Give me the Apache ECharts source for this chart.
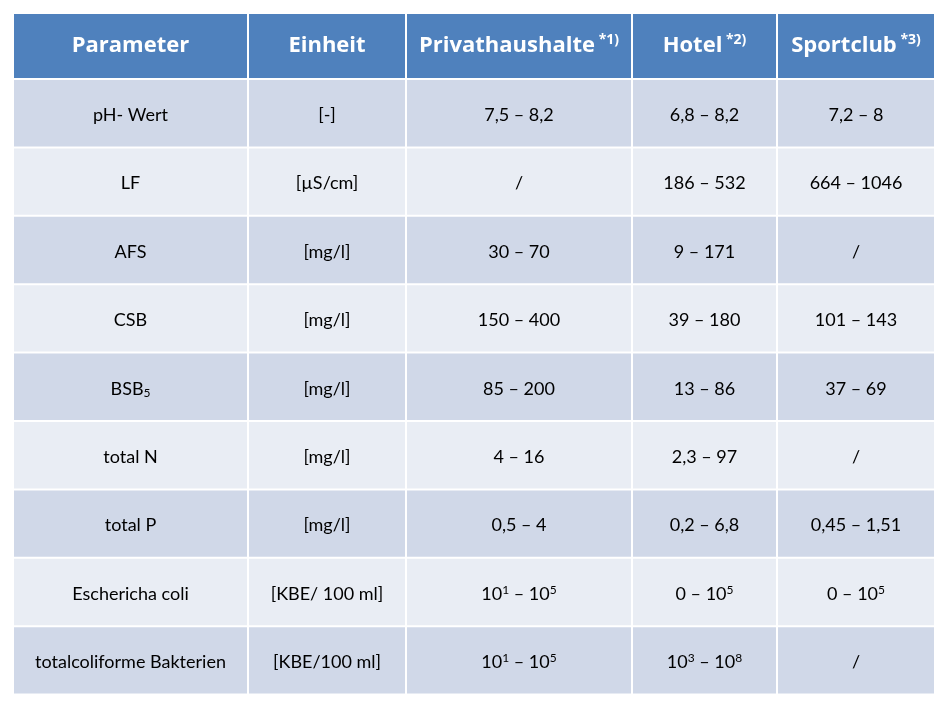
<!DOCTYPE html>
<html>
<head>
<meta charset="utf-8">
<script src="https://cdn.jsdelivr.net/npm/echarts@6/dist/echarts.min.js"></script>
<style>html,body{margin:0;background:#fff}#c{width:947px;height:707px}</style>
</head>
<body>
<div id="c"></div>
<script>
// column boundaries and row boundaries (table units)
const colEdges = [0, 235, 393, 619, 764, 922];
const headerHeight = 66;
const rowHeight = 68.4;

const headers = ["Parameter", "Einheit", "Privathaushalte{sup| *1)}", "Hotel{sup| *2)}", "Sportclub{sup| *3)}"];
const parameters = ["pH- Wert", "LF", "AFS", "CSB", "BSB{sub|5}", "total N", "total P", "Eschericha coli", "totalcoliforme Bakterien"];
const units = ["[-]", "[µS/cm]", "[mg/l]", "[mg/l]", "[mg/l]", "[mg/l]", "[mg/l]", "[KBE/ 100 ml]", "[KBE/100 ml]"];
const privathaushalte = ["7,5 – 8,2", "/", "30 – 70", "150 – 400", "85 – 200", "4 – 16", "0,5 – 4", "10{sup|1} – 10{sup|5}", "10{sup|1} – 10{sup|5}"];
const hotel = ["6,8 – 8,2", "186 – 532", "9 – 171", "39 – 180", "13 – 86", "2,3 – 97", "0,2 – 6,8", "0 – 10{sup|5}", "10{sup|3} – 10{sup|8}"];
const sportclub = ["7,2 – 8", "664 – 1046", "/", "101 – 143", "37 – 69", "/", "0,45 – 1,51", "0 – 10{sup|5}", "/"];

const columns = [parameters, units, privathaushalte, hotel, sportclub];
const cells = [];
headers.forEach((h, c) => cells.push([c, -1, h]));
for (let r = 0; r < parameters.length; r++) {
  columns.forEach((col, c) => cells.push([c, r, col[r]]));
}

function rowTop(r) { return r < 0 ? 0 : headerHeight + r * rowHeight; }
function rowBottom(r) { return r < 0 ? headerHeight : headerHeight + (r + 1) * rowHeight; }

const chart = echarts.init(document.getElementById("c"));
chart.setOption({
  animation: false,
  grid: { left: 13, top: 13, width: 922, height: 682 },
  xAxis: { type: "value", min: 0, max: 922, show: false },
  yAxis: { type: "value", min: 0, max: 682, inverse: true, show: false },
  series: [{
    type: "custom",
    data: cells,
    renderItem(params, api) {
      const c = api.value(0), r = api.value(1);
      const p0 = api.coord([colEdges[c], rowTop(r)]);
      const p1 = api.coord([colEdges[c + 1], rowBottom(r)]);
      const header = r < 0;
      const fill = header ? "#4F81BD" : (r % 2 === 0 ? "#D0D8E8" : "#E9EDF4");
      const text = cells[params.dataIndex][2];
      return {
        type: "group",
        children: [
          { type: "rect", shape: { x: p0[0] + 1, y: p0[1] + 1, width: p1[0] - p0[0] - 2, height: p1[1] - p0[1] - 2 }, style: { fill } },
          {
            type: "text",
            x: (p0[0] + p1[0]) / 2, y: (p0[1] + p1[1]) / 2 + (header ? 0 : 2),
            style: {
              text, align: "center", verticalAlign: "middle",
              fill: header ? "#fff" : "#000",
              font: header ? "bold 22px 'Open Sans', Lato, sans-serif" : "18px Lato, 'Open Sans', sans-serif",
              rich: {
                sup: { fontSize: header ? 14 : 12, fontWeight: header ? "bold" : "normal", fill: header ? "#fff" : "#000", verticalAlign: "top", padding: [0, 0, header ? 12 : 8, 0], fontFamily: header ? "Open Sans" : "Lato" },
                sub: { fontSize: 12, fill: "#000", padding: [8, 0, 0, 0], fontFamily: "Lato" }
              }
            }
          }
        ]
      };
    }
  }]
});
</script>
</body>
</html>
